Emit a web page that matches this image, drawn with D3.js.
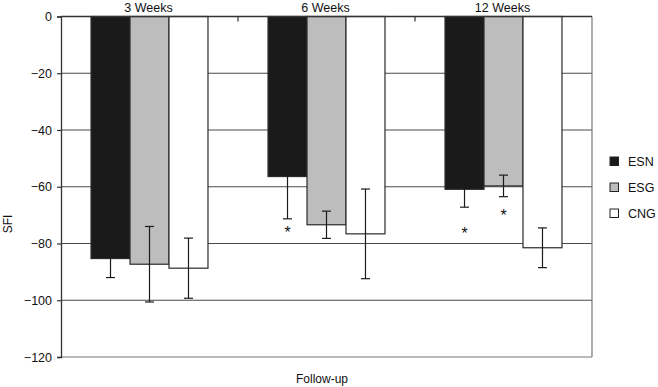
<!DOCTYPE html>
<html>
<head>
<meta charset="utf-8">
<script src="https://cdn.jsdelivr.net/npm/d3@7"></script>
<style>
  html, body { margin: 0; padding: 0; background: #fff; }
  svg { display: block; font-family: "Liberation Sans", Arial, Helvetica, sans-serif; }
</style>
</head>
<body>
<svg id="chart" width="658" height="387"></svg>
<script>
// ---- data ----
const categories = ["3 Weeks", "6 Weeks", "12 Weeks"];
const series = ["ESN", "ESG", "CNG"];
const meanESN = [-85.3, -56.4, -60.9];
const meanESG = [-87.3, -73.4, -59.7];
const meanCNG = [-88.7, -76.6, -81.5];
const errESN = [6.7, 14.9, 6.3];
const errESG = [13.3, 4.8, 3.8];
const errCNG = [10.6, 15.8, 7.0];
// significance markers: [category index, series index, SFI level of marker]
const significant = [[1, 0, -75.4], [2, 0, -75.5], [2, 1, -69.2]];
const yTicks = [0, -20, -40, -60, -80, -100, -120];

const means = { ESN: meanESN, ESG: meanESG, CNG: meanCNG };
const errs = { ESN: errESN, ESG: errESG, CNG: errCNG };
const fills = { ESN: "#1a1a1a", ESG: "#bdbdbd", CNG: "#ffffff" };

const svg = d3.select("#chart");
const L = 61, R = 592, T = 16.5, B = 357;

const x = d3.scaleBand().domain(categories).range([L, R]).padding(0);
const xs = d3.scaleBand().domain(series).range([0, x.bandwidth()]).paddingInner(0).paddingOuter(0.77);
const y = d3.scaleLinear().domain([-120, 0]).range([B, T]);

const lineCol = "#4a4a4a";

// gridlines
svg.append("g").selectAll("line").data(yTicks.filter(d => d !== 0 && d !== -120)).join("line")
  .attr("x1", L).attr("x2", R)
  .attr("y1", d => y(d)).attr("y2", d => y(d))
  .attr("stroke", lineCol).attr("stroke-width", 1.2);

// frame (right, bottom)
svg.append("line").attr("x1", L).attr("x2", R).attr("y1", y(-120)).attr("y2", y(-120))
  .attr("stroke", "#777").attr("stroke-width", 1.2);
svg.append("line").attr("x1", R).attr("x2", R).attr("y1", T).attr("y2", B)
  .attr("stroke", "#777").attr("stroke-width", 1.2);

// bars
const rows = [];
categories.forEach((c, i) => series.forEach((s, j) => rows.push({ c, i, s, j, v: means[s][i], e: errs[s][i] })));

svg.append("g").selectAll("rect").data(rows).join("rect")
  .attr("x", d => x(d.c) + xs(d.s))
  .attr("width", xs.bandwidth())
  .attr("y", d => y(0))
  .attr("height", d => y(d.v) - y(0))
  .attr("fill", d => fills[d.s])
  .attr("stroke", "#2a2a2a").attr("stroke-width", 1.2);

// error bars
const eb = svg.append("g").attr("stroke", "#1b1b1b").attr("stroke-width", 1.2);
rows.forEach(d => {
  const cx = x(d.c) + xs(d.s) + xs.bandwidth() / 2;
  const y1 = y(d.v + d.e), y2 = y(d.v - d.e);
  eb.append("line").attr("x1", cx).attr("x2", cx).attr("y1", y1).attr("y2", y2);
  eb.append("line").attr("x1", cx - 4.5).attr("x2", cx + 4.5).attr("y1", y1).attr("y2", y1);
  eb.append("line").attr("x1", cx - 4.5).attr("x2", cx + 4.5).attr("y1", y2).attr("y2", y2);
});

// significance asterisks
svg.append("g").selectAll("text").data(significant).join("text")
  .attr("x", d => x(categories[d[0]]) + xs(series[d[1]]) + xs.bandwidth() / 2)
  .attr("y", d => y(d[2]) + 8)
  .attr("text-anchor", "middle")
  .attr("font-size", 16)
  .attr("fill", "#111")
  .text("*");

// top axis line with category ticks
svg.append("line").attr("x1", L).attr("x2", R).attr("y1", T).attr("y2", T)
  .attr("stroke", "#333").attr("stroke-width", 1.3);
svg.append("g").selectAll("line").data(categories.slice(1)).join("line")
  .attr("x1", d => x(d)).attr("x2", d => x(d))
  .attr("y1", T).attr("y2", T + 5)
  .attr("stroke", "#333").attr("stroke-width", 1.2);

// category labels
svg.append("g").selectAll("text").data(categories).join("text")
  .attr("x", d => x(d) + x.bandwidth() / 2 - 1)
  .attr("y", 12)
  .attr("text-anchor", "middle")
  .attr("font-size", 12.5)
  .attr("fill", "#111")
  .text(d => d);

// y axis
const yAxis = d3.axisLeft(y).tickValues(yTicks).tickSize(4).tickPadding(5)
  .tickFormat(d => d === 0 ? "0" : "\u2212" + Math.abs(d));
const ga = svg.append("g").attr("transform", `translate(${L},0)`).call(yAxis);
ga.select(".domain").attr("stroke", "#333").attr("stroke-width", 1.3);
ga.selectAll(".tick line").attr("stroke", "#333").attr("stroke-width", 1.2);
ga.selectAll(".tick text").attr("font-size", 12.5).attr("fill", "#111")
  .attr("font-family", "'Liberation Sans', Arial, sans-serif");

// axis titles
svg.append("text").attr("transform", "translate(12,224) rotate(-90)")
  .attr("text-anchor", "middle").attr("font-size", 12).attr("fill", "#111").text("SFI");
svg.append("text").attr("x", 322).attr("y", 383)
  .attr("text-anchor", "middle").attr("font-size", 12).attr("fill", "#111").text("Follow-up");

// legend
const lg = svg.append("g").selectAll("g").data(series).join("g")
  .attr("transform", (d, i) => `translate(610,${157 + i * 26})`);
lg.append("rect").attr("width", 8.5).attr("height", 8.5)
  .attr("fill", d => fills[d]).attr("stroke", "#222").attr("stroke-width", 1);
lg.append("text").attr("x", 18).attr("y", 8.5)
  .attr("font-size", 12.5).attr("fill", "#111").text(d => d);
</script>
</body>
</html>
